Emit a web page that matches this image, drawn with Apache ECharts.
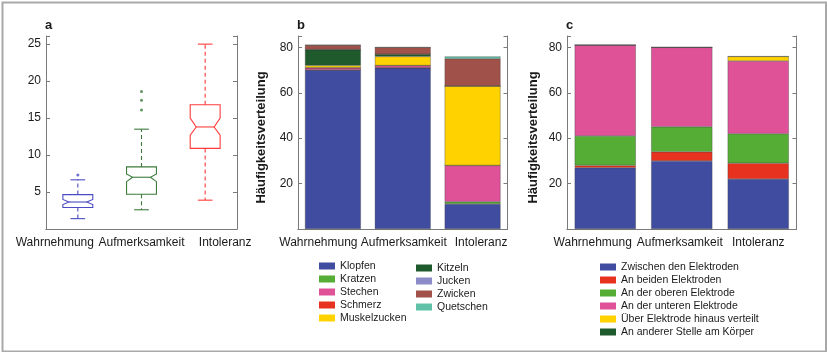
<!DOCTYPE html>
<html>
<head>
<meta charset="utf-8">
<script src="https://cdn.jsdelivr.net/npm/echarts@6/dist/echarts.min.js"></script>
<style>
	html, body { margin: 0; padding: 0; background: #fff; }
	#chart { width: 827px; height: 352px; }
</style>
</head>
<body>
<div id="chart"></div>
<script>
	var categories = ['Wahrnehmung', 'Aufmerksamkeit', 'Intoleranz'];

	// panel a, notched boxes: [low whisker, q1, notch low, median, notch high, q3, high whisker]
	var boxWahrnehmung = [1.4, 2.9, 3.3, 3.65, 4.0, 4.65, 6.65];
	var boxAufmerksamkeit = [2.6, 4.7, 6.4, 7.0, 7.45, 8.4, 13.5];
	var boxIntoleranz = [3.9, 10.9, 12.7, 13.8, 15.0, 16.8, 25];
	var outliersWahrnehmung = [7.3];
	var outliersAufmerksamkeit = [16.1, 17.4, 18.6];
	var outliersIntoleranz = [];

	// panel b, kind of sensation
	var sensationNames = ['Klopfen', 'Kratzen', 'Stechen', 'Schmerz', 'Muskelzucken', 'Kitzeln', 'Jucken', 'Zwicken', 'Quetschen'];
	var klopfen = [70, 71, 11];
	var kratzen = [0, 0, 1];
	var stechen = [1, 1, 16];
	var schmerz = [0, 0, 0];
	var muskelzucken = [1, 4, 35];
	var kitzeln = [7, 1, 0];
	var jucken = [0, 0, 0];
	var zwicken = [2, 3, 12];
	var quetschen = [0, 0, 1];

	// panel c, location of sensation
	var locationNames = ['Zwischen den Elektroden', 'An beiden Elektroden', 'An der oberen Elektrode', 'An der unteren Elektrode', 'Über Elektrode hinaus verteilt', 'An anderer Stelle am Körper'];
	var zwischen = [27, 30, 22];
	var beiden = [1, 4, 7];
	var oberen = [13, 11, 13];
	var unteren = [40, 35, 32];
	var verteilt = [0, 0, 2];
	var andere = [0, 0, 0];

	var boxColors = ['#4b4bc4', '#3b7a3b', '#ff3b3b'];
	var sensationColors = ['#404c9f', '#55ad36', '#df5298', '#e6321f', '#ffd200', '#1e5a2b', '#8b8bc9', '#a0524a', '#5fc2a8'];
	var locationColors = ['#404c9f', '#e6321f', '#55ad36', '#df5298', '#ffd200', '#1e5a2b'];

	var FONT = '"Liberation Sans", Arial, sans-serif';
	var TEXT = '#1a1a1a';
	var FRAME = '#7a7a7a';

	var chart = echarts.init(document.getElementById('chart'));

	function renderNotchBox(params, api) {
		var idx = api.value(0);
		var xc = api.coord([idx, 0])[0];
		var band = api.size([1, 0])[0];
		var hw = band * 0.235, cap = band * 0.115, notch = hw * 0.4;
		var y = function (dim) { return api.coord([idx, api.value(dim)])[1]; };
		var low = y(1), q1 = y(2), nlo = y(3), med = y(4), nhi = y(5), q3 = y(6), high = y(7);
		var color = boxColors[idx];
		var solid = { stroke: color, lineWidth: 1.1, fill: null };
		var dashed = { stroke: color, lineWidth: 1.1, lineDash: [4, 3] };
		return {
			type: 'group',
			children: [
				{ type: 'line', shape: { x1: xc, y1: q3, x2: xc, y2: high }, style: dashed },
				{ type: 'line', shape: { x1: xc, y1: q1, x2: xc, y2: low }, style: dashed },
				{ type: 'line', shape: { x1: xc - cap, y1: high, x2: xc + cap, y2: high }, style: solid },
				{ type: 'line', shape: { x1: xc - cap, y1: low, x2: xc + cap, y2: low }, style: solid },
				{ type: 'polygon', shape: { points: [
					[xc - hw, q1], [xc - hw, nlo], [xc - hw + notch, med], [xc - hw, nhi], [xc - hw, q3],
					[xc + hw, q3], [xc + hw, nhi], [xc + hw - notch, med], [xc + hw, nlo], [xc + hw, q1]
				] }, style: { stroke: color, lineWidth: 1.1, fill: 'none' } },
				{ type: 'line', shape: { x1: xc - hw + notch, y1: med, x2: xc + hw - notch, y2: med }, style: solid }
			]
		};
	}

	// label shifts so the three names do not crowd each other, like the original
	function categoryLabel(pPads) {
		var rich = {};
		pPads.forEach(function (p, i) {
			rich['p' + i] = { fontSize: 12, fontFamily: FONT, color: TEXT, padding: p };
		});
		return {
			interval: 0, margin: 8, fontSize: 12, fontFamily: FONT, color: TEXT,
			formatter: function (v, i) { return '{p' + i + '|' + v + '}'; },
			rich: rich
		};
	}

	function bottomAxis(pGrid, pPads) {
		return {
			type: 'category', gridIndex: pGrid, data: categories, position: 'bottom',
			axisLine: { lineStyle: { color: FRAME, width: 1 } },
			axisTick: { inside: true, alignWithLabel: true, length: 4, lineStyle: { color: FRAME } },
			axisLabel: categoryLabel(pPads)
		};
	}

	function topAxis(pGrid) {
		return {
			type: 'category', gridIndex: pGrid, data: categories, position: 'top',
			axisLine: { lineStyle: { color: FRAME, width: 1 } },
			axisTick: { inside: true, alignWithLabel: true, length: 4, lineStyle: { color: FRAME } },
			axisLabel: { show: false }
		};
	}

	function valueAxis(pGrid, pMax, pInterval, pPosition, pName, pNameGap) {
		return {
			type: 'value', gridIndex: pGrid, position: pPosition, min: 0, max: pMax, interval: pInterval,
			name: pName || '', nameLocation: 'middle', nameGap: pNameGap || 30,
			nameTextStyle: { fontSize: 13, fontWeight: 'bold', fontFamily: FONT, color: TEXT, padding: [0, 10, 0, 0] },
			axisLine: { show: true, lineStyle: { color: FRAME, width: 1 } },
			axisTick: { show: true, inside: true, length: 4, lineStyle: { color: FRAME } },
			splitLine: { show: false },
			axisLabel: {
				show: pPosition === 'left', margin: 5, fontSize: 12, fontFamily: FONT, color: TEXT,
				formatter: function (v) { return (v > 0 && v % pInterval === 0) ? v : ''; }
			}
		};
	}

	var boxData = [boxWahrnehmung, boxAufmerksamkeit, boxIntoleranz].map(function (b, i) {
		return [i].concat(b);
	});
	var outlierData = [];
	[outliersWahrnehmung, outliersAufmerksamkeit, outliersIntoleranz].forEach(function (list, i) {
		list.forEach(function (v) { outlierData.push([i, v]); });
	});

	var series = [
		{
			type: 'custom', xAxisIndex: 0, yAxisIndex: 0, data: boxData,
			encode: { x: 0, y: [1, 2, 3, 4, 5, 6, 7] },
			renderItem: renderNotchBox, silent: true
		},
		{
			type: 'scatter', xAxisIndex: 0, yAxisIndex: 0, data: outlierData,
			symbolSize: 3, silent: true,
			itemStyle: { color: function (p) { return boxColors[p.data[0]]; } }
		}
	];

	var barBorder = { borderColor: 'rgba(60,60,60,0.7)', borderWidth: 0.5 };
	[klopfen, kratzen, stechen, schmerz, muskelzucken, kitzeln, jucken, zwicken, quetschen].forEach(function (values, i) {
		series.push({
			name: sensationNames[i], type: 'bar', stack: 'b', xAxisIndex: 1, yAxisIndex: 1,
			barWidth: '80%', data: values, silent: true,
			itemStyle: Object.assign({ color: sensationColors[i] }, barBorder)
		});
	});
	[zwischen, beiden, oberen, unteren, verteilt, andere].forEach(function (values, i) {
		series.push({
			name: locationNames[i], type: 'bar', stack: 'c', xAxisIndex: 2, yAxisIndex: 2,
			barWidth: '80%', data: values, silent: true,
			itemStyle: Object.assign({ color: locationColors[i] }, barBorder)
		});
	});

	var legendBase = {
		orient: 'vertical', padding: 0, itemGap: 1, itemWidth: 16, itemHeight: 7, icon: 'rect',
		selectedMode: false,
		itemStyle: { borderWidth: 0 },
		textStyle: { fontSize: 10.5, lineHeight: 12, fontFamily: FONT, color: TEXT }
	};

	var option = {
		animation: false,
		textStyle: { fontFamily: FONT },
		graphic: [{
			type: 'rect', left: 0, top: 0, silent: true,
			shape: { x: 1, y: 1, width: 823.5, height: 349 },
			style: { fill: 'none', stroke: '#a9a9a9', lineWidth: 2 }
		}],
		title: [
			{ text: 'a', left: 45, top: 19 },
			{ text: 'b', left: 297, top: 19 },
			{ text: 'c', left: 566, top: 19 }
		].map(function (t) {
			t.padding = 0;
			t.textStyle = { fontSize: 13, fontWeight: 'bold', fontFamily: FONT, color: TEXT };
			return t;
		}),
		grid: [
			{ left: 46, top: 36, width: 191, height: 193 },
			{ left: 298, top: 36, width: 209.5, height: 193 },
			{ left: 567, top: 36, width: 229.5, height: 193 }
		],
		xAxis: [
			bottomAxis(0, [[0, 46, 0, 0], [0, 0, 0, 0], [0, 0, 0, 40]]),
			bottomAxis(1, [[0, 29, 0, 0], [0, 0, 0, 2], [0, 0, 0, 17]]),
			bottomAxis(2, [[0, 25, 0, 0], [0, 4, 0, 0], [0, 0, 0, 0]]),
			topAxis(0), topAxis(1), topAxis(2)
		],
		yAxis: [
			valueAxis(0, 26.1, 5, 'left'),
			valueAxis(1, 85, 20, 'left', 'Häufigkeitsverteilung', 30),
			valueAxis(2, 85, 20, 'left', 'Häufigkeitsverteilung', 27.5),
			valueAxis(0, 26.1, 5, 'right'),
			valueAxis(1, 85, 20, 'right'),
			valueAxis(2, 85, 20, 'right')
		],
		legend: [
			Object.assign({}, legendBase, { left: 319, top: 260, data: sensationNames.slice(0, 5) }),
			Object.assign({}, legendBase, { left: 416, top: 262, data: sensationNames.slice(5) }),
			Object.assign({}, legendBase, { left: 600, top: 261, data: locationNames })
		],
		series: series
	};

	chart.setOption(option);
</script>
</body>
</html>
